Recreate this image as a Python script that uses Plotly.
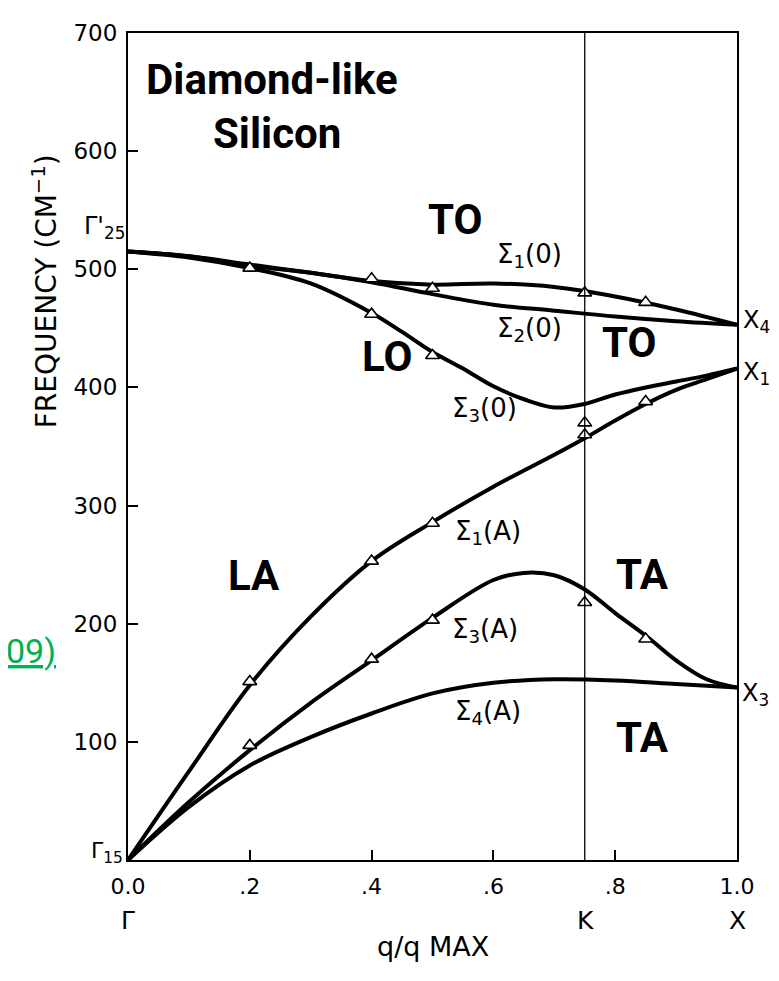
import plotly.graph_objects as go

# ---------------- data ----------------
# Optical branches
q_s1o = [0.0, 0.1, 0.2, 0.3, 0.4, 0.5, 0.6, 0.7, 0.8, 0.9, 1.0]
v_s1o = [515, 511, 504, 497, 490, 487, 488, 485, 477, 466, 453]

q_s2o = [0.0, 0.1, 0.2, 0.3, 0.4, 0.5, 0.6, 0.7, 0.8, 0.9, 1.0]
v_s2o = [515, 511, 503, 497, 489, 479, 470, 465, 460, 456, 453]

q_s3o = [0.0, 0.1, 0.2, 0.3, 0.4, 0.45, 0.5, 0.55, 0.6, 0.65, 0.7, 0.75, 0.8, 0.85, 0.9, 0.95, 1.0]
v_s3o = [515, 510, 501, 488, 463, 447, 430, 416, 401, 390, 383, 386, 394, 400, 405, 410, 416]

# Acoustic branches
q_s1a = [0.0, 0.1, 0.2, 0.3, 0.4, 0.5, 0.6, 0.7, 0.75, 0.8, 0.85, 0.9, 0.95, 1.0]
v_s1a = [0, 75, 148, 206, 253, 286, 316, 343, 357, 372, 386, 398, 407, 416]

q_s3a = [0.0, 0.1, 0.2, 0.3, 0.4, 0.5, 0.6, 0.65, 0.7, 0.75, 0.8, 0.85, 0.9, 0.95, 1.0]
v_s3a = [0, 49, 93, 133, 169, 205, 237, 243, 241, 229, 209, 190, 169, 153, 146]

q_s4a = [0.0, 0.1, 0.2, 0.3, 0.4, 0.5, 0.6, 0.7, 0.8, 0.9, 1.0]
v_s4a = [0, 45, 80, 104, 124, 141, 150, 153, 152, 149, 146]

# Measured points (triangles)
q_pts = [0.2, 0.4, 0.5, 0.75, 0.85, 0.4, 0.5,
         0.2, 0.4, 0.5, 0.75, 0.75, 0.85,
         0.2, 0.4, 0.5, 0.75, 0.85]
v_pts = [501, 492, 484, 480, 472, 462, 427,
         151, 253, 285, 360, 370, 388,
         97, 170, 203, 218, 187]

x_tickvals = [0.0, 0.2, 0.4, 0.6, 0.8, 1.0]
x_ticktext = ["0.0", ".2", ".4", ".6", ".8", "1.0"]
y_tickvals = [100, 200, 300, 400, 500, 600, 700]
y_ticktext = ["100", "200", "300", "400", "500", "600", "700"]
k_point = 0.75

# ---------------- layout geometry ----------------
# The page body has an 8px margin, so the figure is made 16px smaller
# and every reference pixel position is shifted by -8.
OFF = 8
W, H = 779 - 2 * OFF, 981 - 2 * OFF
RX0, RX1 = 128, 737      # plot area in reference pixels
RY0, RY1 = 21, 860
L, R, T, B = RX0 - OFF, (779 - RX1) - OFF, RY0 - OFF, (981 - RY1) - OFF


def px(x):
    return (x - RX0) / (RX1 - RX0)


def py(y):
    return (RY1 - y) / (RY1 - RY0)


AX_FONT = "DejaVu Sans, Liberation Sans, sans-serif"
BIG_FONT = "Roboto, Liberation Sans, sans-serif"

fig = go.Figure()

line_style = dict(color="black", width=4, shape="spline", smoothing=1.0)
for qq, vv in [(q_s1o, v_s1o), (q_s2o, v_s2o), (q_s3o, v_s3o),
               (q_s1a, v_s1a), (q_s3a, v_s3a), (q_s4a, v_s4a)]:
    fig.add_trace(go.Scatter(x=qq, y=vv, mode="lines", line=line_style,
                             hoverinfo="skip", showlegend=False))

fig.add_trace(go.Scatter(
    x=q_pts, y=v_pts, mode="markers",
    marker=dict(symbol="triangle-up", size=12, color="white",
                line=dict(color="black", width=1.6)),
    showlegend=False))

# vertical line at K
fig.add_shape(type="line", xref="x", yref="paper", x0=k_point, x1=k_point,
              y0=0, y1=1, line=dict(color="black", width=1.3))

ann = []


def add(text, x, y, size, family=AX_FONT, color="black", xanchor="center",
        weight="normal", textangle=0, **kw):
    ann.append(dict(text=text, x=px(x), y=py(y), xref="paper", yref="paper",
                    showarrow=False, xanchor=xanchor, yanchor="middle",
                    textangle=textangle,
                    font=dict(family=family, size=size, color=color,
                              weight=weight, **kw)))


# big bold labels
add("Diamond-like", 272, 68, 42, BIG_FONT, weight="bold")
add("Silicon", 277, 123, 42, BIG_FONT, weight="bold")
add("TO", 455, 210, 42, BIG_FONT, weight="bold")
add("TO", 629, 335, 42, BIG_FONT, weight="bold")
add("LO", 387, 349, 42, BIG_FONT, weight="bold")
add("LA", 254, 571, 42, BIG_FONT, weight="bold")
add("TA", 642, 570, 42, BIG_FONT, weight="bold")
add("TA", 642, 736, 42, BIG_FONT, weight="bold")

# branch labels
add("Σ<sub>1</sub>(0)", 529, 247, 26)
add("Σ<sub>2</sub>(0)", 529, 322, 26)
add("Σ<sub>3</sub>(0)", 485, 403, 26)
add("Σ<sub>1</sub>(A)", 488, 528, 26)
add("Σ<sub>3</sub>(A)", 485, 627, 26)
add("Σ<sub>4</sub>(A)", 488, 710, 26)

# symmetry point labels
add("X<sub>4</sub>", 741, 314, 24, xanchor="left")
add("X<sub>1</sub>", 741, 366, 24, xanchor="left")
add("X<sub>3</sub>", 740, 692, 24, xanchor="left")
add("Γ'<sub>25</sub>", 127, 218, 24, xanchor="right")
add("Γ<sub>15</sub>", 125, 852, 22, xanchor="right")
add("Γ", 128, 921, 25)
add("K", 585, 921, 25)
add("X", 737, 921, 25)
add("q/q MAX", 433, 948, 27)

# axis title (rotated)
add("FREQUENCY (CM<sup>−1</sup>)", 45, 283, 28, textangle=-90)

# green link text at the left edge
add("09)", 58, 648, 34, "Roboto, Liberation Sans, sans-serif",
    color="#00b050", xanchor="right", lineposition="under")

fig.update_layout(
    width=W, height=H,
    margin=dict(l=L, r=R, t=T, b=B, pad=0),
    paper_bgcolor="white", plot_bgcolor="white",
    annotations=ann,
    xaxis=dict(range=[0, 1], tickvals=x_tickvals, ticktext=x_ticktext,
               ticks="inside", ticklen=10, tickwidth=1.5, tickcolor="black",
               showline=True, linecolor="black", linewidth=2, mirror=True,
               showgrid=False, zeroline=False, ticklabelstandoff=6,
               tickfont=dict(family=AX_FONT, size=22, color="black")),
    yaxis=dict(range=[0, 700], tickvals=y_tickvals, ticktext=y_ticktext,
               ticks="inside", ticklen=10, tickwidth=1.5, tickcolor="black",
               showline=True, linecolor="black", linewidth=2, mirror=True,
               showgrid=False, zeroline=False, ticklabelstandoff=4,
               tickfont=dict(family=AX_FONT, size=23, color="black")),
)

fig.write_html("out.html")
